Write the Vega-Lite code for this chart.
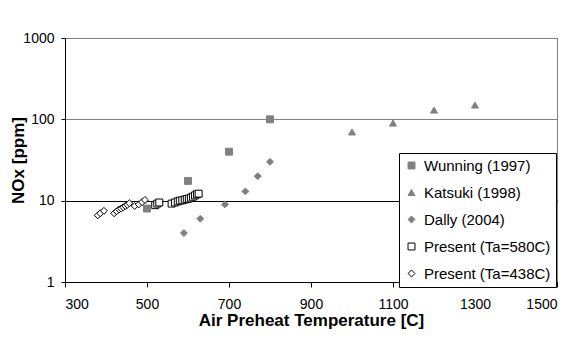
{
  "$schema": "https://vega.github.io/schema/vega-lite/v6.json",
  "width": 492,
  "height": 244,
  "autosize": "none",
  "padding": {"left": 65, "top": 38, "right": 19, "bottom": 56},
  "background": "white",
  "config": {
    "font": "Liberation Sans",
    "view": {"stroke": "#808080", "strokeWidth": 1},
    "legend": {
      "orient": "none",
      "legendX": 334,
      "legendY": 115,
      "strokeColor": "black",
      "fillColor": "white",
      "padding": 5,
      "rowPadding": 11,
      "labelFontSize": 15,
      "labelColor": "black",
      "labelOffset": 5,
      "symbolStrokeWidth": 1
    }
  },
  "data": {
    "values": [
      {"series": "Wunning (1997)", "t": 500, "nox": 8},
      {"series": "Wunning (1997)", "t": 600, "nox": 17.5},
      {"series": "Wunning (1997)", "t": 700, "nox": 40},
      {"series": "Wunning (1997)", "t": 800, "nox": 100},
      {"series": "Katsuki (1998)", "t": 1000, "nox": 70},
      {"series": "Katsuki (1998)", "t": 1100, "nox": 90},
      {"series": "Katsuki (1998)", "t": 1200, "nox": 130},
      {"series": "Katsuki (1998)", "t": 1300, "nox": 150},
      {"series": "Dally (2004)", "t": 590, "nox": 4},
      {"series": "Dally (2004)", "t": 630, "nox": 6},
      {"series": "Dally (2004)", "t": 690, "nox": 9},
      {"series": "Dally (2004)", "t": 740, "nox": 13},
      {"series": "Dally (2004)", "t": 770, "nox": 20},
      {"series": "Dally (2004)", "t": 800, "nox": 30},
      {"series": "Present (Ta=580C)", "t": 520, "nox": 8.8},
      {"series": "Present (Ta=580C)", "t": 525, "nox": 9.2},
      {"series": "Present (Ta=580C)", "t": 530, "nox": 9.5},
      {"series": "Present (Ta=580C)", "t": 560, "nox": 9.2},
      {"series": "Present (Ta=580C)", "t": 568, "nox": 9.5},
      {"series": "Present (Ta=580C)", "t": 575, "nox": 9.8},
      {"series": "Present (Ta=580C)", "t": 580, "nox": 10},
      {"series": "Present (Ta=580C)", "t": 586, "nox": 10.1},
      {"series": "Present (Ta=580C)", "t": 592, "nox": 10.3},
      {"series": "Present (Ta=580C)", "t": 597, "nox": 10.5},
      {"series": "Present (Ta=580C)", "t": 602, "nox": 10.6},
      {"series": "Present (Ta=580C)", "t": 607, "nox": 10.9},
      {"series": "Present (Ta=580C)", "t": 612, "nox": 11.2},
      {"series": "Present (Ta=580C)", "t": 617, "nox": 11.6},
      {"series": "Present (Ta=580C)", "t": 622, "nox": 12},
      {"series": "Present (Ta=580C)", "t": 626, "nox": 12.2},
      {"series": "Present (Ta=438C)", "t": 380, "nox": 6.6},
      {"series": "Present (Ta=438C)", "t": 386, "nox": 7},
      {"series": "Present (Ta=438C)", "t": 395, "nox": 7.5},
      {"series": "Present (Ta=438C)", "t": 420, "nox": 7},
      {"series": "Present (Ta=438C)", "t": 426, "nox": 7.4},
      {"series": "Present (Ta=438C)", "t": 432, "nox": 7.8},
      {"series": "Present (Ta=438C)", "t": 437, "nox": 8},
      {"series": "Present (Ta=438C)", "t": 442, "nox": 8.3},
      {"series": "Present (Ta=438C)", "t": 447, "nox": 8.6},
      {"series": "Present (Ta=438C)", "t": 452, "nox": 8.9},
      {"series": "Present (Ta=438C)", "t": 457, "nox": 9.3},
      {"series": "Present (Ta=438C)", "t": 470, "nox": 8.6},
      {"series": "Present (Ta=438C)", "t": 480, "nox": 9},
      {"series": "Present (Ta=438C)", "t": 488, "nox": 9.6},
      {"series": "Present (Ta=438C)", "t": 495, "nox": 10.2}
    ]
  },
  "mark": {"type": "point", "filled": true, "strokeWidth": 1, "opacity": 1},
  "encoding": {
    "x": {
      "field": "t",
      "type": "quantitative",
      "scale": {"domain": [300, 1500], "nice": false, "zero": false},
      "axis": {
        "values": [300, 500, 700, 900, 1100, 1300, 1500],
        "format": "d",
        "title": "Air Preheat Temperature [C]",
        "grid": false,
        "domainColor": "black",
        "tickColor": "black",
        "tickSize": 5,
        "labelFontSize": 14,
        "labelColor": "black",
        "labelPadding": 10,
        "titleFontSize": 17,
        "titleFontWeight": "bold",
        "titleColor": "black",
        "titlePadding": 1
      }
    },
    "y": {
      "field": "nox",
      "type": "quantitative",
      "scale": {"type": "log", "domain": [1, 1000], "nice": false},
      "axis": {
        "values": [1, 10, 100, 1000],
        "format": "d",
        "title": "NOx [ppm]",
        "grid": true,
        "gridColor": {"condition": {"test": "datum.value == 10", "value": "black"}, "value": "#808080"},
        "gridOpacity": 1,
        "domainColor": "black",
        "tickColor": "black",
        "tickSize": 4,
        "labelFontSize": 14,
        "labelColor": "black",
        "labelPadding": 7,
        "titleFontSize": 17,
        "titleFontWeight": "bold",
        "titleColor": "black",
        "titleX": -38
      }
    },
    "shape": {
      "field": "series",
      "type": "nominal",
      "title": null,
      "scale": {
        "domain": ["Wunning (1997)", "Katsuki (1998)", "Dally (2004)", "Present (Ta=580C)", "Present (Ta=438C)"],
        "range": ["square", "triangle-up", "diamond", "square", "diamond"]
      }
    },
    "fill": {
      "field": "series",
      "type": "nominal",
      "title": null,
      "scale": {
        "domain": ["Wunning (1997)", "Katsuki (1998)", "Dally (2004)", "Present (Ta=580C)", "Present (Ta=438C)"],
        "range": ["#808080", "#808080", "#808080", "white", "white"]
      }
    },
    "stroke": {
      "field": "series",
      "type": "nominal",
      "title": null,
      "scale": {
        "domain": ["Wunning (1997)", "Katsuki (1998)", "Dally (2004)", "Present (Ta=580C)", "Present (Ta=438C)"],
        "range": ["#808080", "#808080", "#808080", "black", "black"]
      }
    },
    "size": {
      "field": "series",
      "type": "nominal",
      "title": null,
      "scale": {
        "domain": ["Wunning (1997)", "Katsuki (1998)", "Dally (2004)", "Present (Ta=580C)", "Present (Ta=438C)"],
        "range": [48, 48, 48, 36, 36]
      }
    }
  }
}
